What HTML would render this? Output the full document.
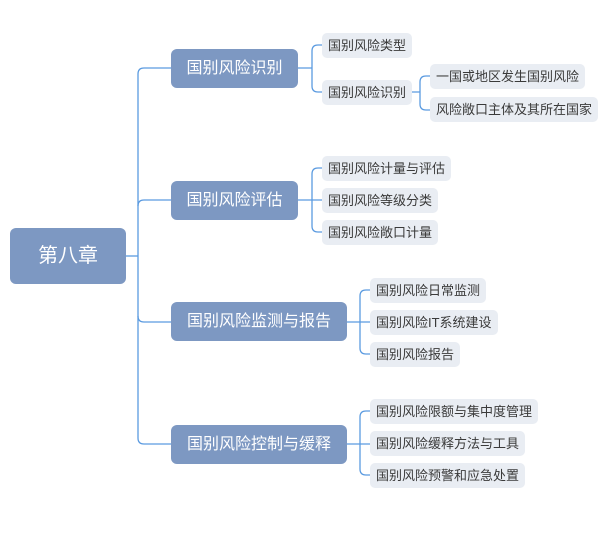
<!DOCTYPE html><html><head><meta charset="utf-8"><style>
body{margin:0;width:600px;height:540px;background:#fff;position:relative;overflow:hidden;font-family:"Liberation Sans","Noto Sans CJK SC",sans-serif}
.b{position:absolute;background:#7d98c2;color:#fff;border-radius:6px;text-align:center}
.s{position:absolute;background:#e9edf3;color:#3a3a3a;border-radius:5px;font-size:13px;height:25px;line-height:25px;padding:0 6px;white-space:nowrap}
svg{position:absolute;left:0;top:0}
</style></head><body>
<svg width="600" height="540" fill="none" stroke="#5b9be0" stroke-width="1.3">
<path d="M126 256H138"/>
<path d="M171 68H144Q138 68 138 74V438Q138 444 144 444H171"/>
<path d="M138 200Q138 194 144 194V200H171" stroke="none"/>
<path d="M138 206Q138 200 144 200H171"/>
<path d="M138 316Q138 322 144 322H171"/>
<path d="M297 68H312M322 45H318Q312 45 312 51V86Q312 92 318 92H322"/>
<path d="M410 92H420M430 76H426Q420 76 420 82V104Q420 110 426 110H430"/>
<path d="M297 200H322M322 168H318Q312 168 312 174V226Q312 232 318 232H322"/>
<path d="M347 322H370M370 290H366Q360 290 360 296V348Q360 354 366 354H370"/>
<path d="M347 444H370M370 411H366Q360 411 360 417V469Q360 475 366 475H370"/>
</svg>
<div class="b" style="left:10px;top:228px;width:116px;height:56px;line-height:56px;font-size:20px">第八章</div>
<div class="b" style="left:171px;top:49px;width:127px;height:39px;line-height:39px;font-size:16px">国别风险识别</div>
<div class="b" style="left:171px;top:181px;width:127px;height:39px;line-height:39px;font-size:16px">国别风险评估</div>
<div class="b" style="left:171px;top:302px;width:176px;height:39px;line-height:39px;font-size:16px">国别风险监测与报告</div>
<div class="b" style="left:171px;top:425px;width:176px;height:39px;line-height:39px;font-size:16px">国别风险控制与缓释</div>
<div class="s" style="left:322px;top:33px">国别风险类型</div>
<div class="s" style="left:322px;top:80px">国别风险识别</div>
<div class="s" style="left:430px;top:64px">一国或地区发生国别风险</div>
<div class="s" style="left:430px;top:97px">风险敞口主体及其所在国家</div>
<div class="s" style="left:322px;top:156px">国别风险计量与评估</div>
<div class="s" style="left:322px;top:188px">国别风险等级分类</div>
<div class="s" style="left:322px;top:220px">国别风险敞口计量</div>
<div class="s" style="left:370px;top:278px">国别风险日常监测</div>
<div class="s" style="left:370px;top:310px">国别风险IT系统建设</div>
<div class="s" style="left:370px;top:342px">国别风险报告</div>
<div class="s" style="left:370px;top:399px">国别风险限额与集中度管理</div>
<div class="s" style="left:370px;top:431px">国别风险缓释方法与工具</div>
<div class="s" style="left:370px;top:463px">国别风险预警和应急处置</div>
</body></html>
